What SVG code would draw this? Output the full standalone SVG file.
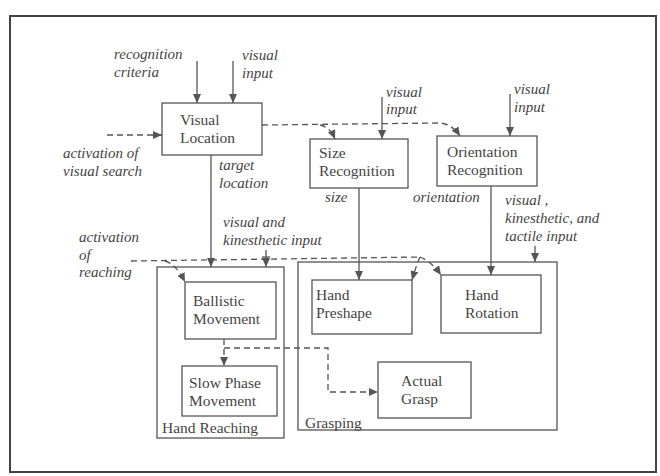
<svg xmlns="http://www.w3.org/2000/svg" width="660" height="476" viewBox="0 0 660 476">
<defs>
<marker id="ah" markerUnits="userSpaceOnUse" markerWidth="10" markerHeight="8" refX="9" refY="4" orient="auto">
<path d="M0,0 L9,4 L0,8 Z" fill="#555"/>
</marker>
<style>
.box{fill:none;stroke:#555;stroke-width:1.3}
.frame{fill:none;stroke:#444;stroke-width:2}
.ln{fill:none;stroke:#555;stroke-width:1.3}
.ds{fill:none;stroke:#555;stroke-width:1.3;stroke-dasharray:6 4}
.bt{font-size:15.5px;fill:#444}
.it{font-style:italic;font-size:15px;fill:#444}
</style>
</defs>
<rect width="660" height="476" fill="#fff"/>
<rect class="frame" x="10" y="16" width="646" height="456"/>

<g id="connectors">
<line class="ln" x1="197" y1="61" x2="197" y2="103" marker-end="url(#ah)"/>
<line class="ln" x1="233" y1="61" x2="233" y2="103" marker-end="url(#ah)"/>
<line class="ds" x1="107" y1="135" x2="162" y2="135" marker-end="url(#ah)"/>
<line class="ln" x1="382" y1="97" x2="382" y2="139" marker-end="url(#ah)"/>
<line class="ln" x1="510" y1="94" x2="510" y2="136" marker-end="url(#ah)"/>
<path class="ds" d="M262,125 L440,123 Q452,124 460,136" marker-end="url(#ah)"/>
<path class="ds" d="M320,125 Q330,127 335,139" marker-end="url(#ah)"/>
<line class="ln" x1="211" y1="155" x2="211" y2="267" marker-end="url(#ah)"/>
<line class="ln" x1="359" y1="188" x2="359" y2="280" marker-end="url(#ah)"/>
<line class="ln" x1="491" y1="186" x2="491" y2="275" marker-end="url(#ah)"/>
<line class="ln" x1="266" y1="250" x2="266" y2="267" marker-end="url(#ah)"/>
<line class="ln" x1="262" y1="257" x2="270" y2="257"/>
<line class="ln" x1="535" y1="246" x2="535" y2="262" marker-end="url(#ah)"/>
<path class="ds" d="M131,261 L420,257"/>
<path class="ds" d="M165,261 Q176,264 185,282" marker-end="url(#ah)"/>
<path class="ds" d="M420,257 Q416,266 412,280" marker-end="url(#ah)"/>
<path class="ds" d="M420,257 Q432,262 441,275" marker-end="url(#ah)"/>
<path class="ds" d="M224,339 L224,348 L224,366" marker-end="url(#ah)"/>
<path class="ds" d="M224,348 L328,348 L328,392 L378,392" marker-end="url(#ah)"/>
</g>

<g id="labels" font-family="'Liberation Serif', 'Times New Roman', 'DejaVu Serif', serif">
<text class="it" x="114" y="59">recognition</text>
<text class="it" x="114" y="77">criteria</text>
<text class="it" x="242" y="60">visual</text>
<text class="it" x="242" y="78">input</text>
<text class="it" x="63" y="158">activation of</text>
<text class="it" x="63" y="176">visual search</text>
<text class="it" x="219" y="170">target</text>
<text class="it" x="219" y="188">location</text>
<text class="it" x="386" y="97">visual</text>
<text class="it" x="386" y="114">input</text>
<text class="it" x="514" y="94">visual</text>
<text class="it" x="514" y="112">input</text>
<text class="it" x="325" y="202">size</text>
<text class="it" x="413" y="202">orientation</text>
<text class="it" x="505" y="205">visual ,</text>
<text class="it" x="505" y="223">kinesthetic, and</text>
<text class="it" x="505" y="241">tactile input</text>
<text class="it" x="223" y="227">visual and</text>
<text class="it" x="223" y="245">kinesthetic input</text>
<text class="it" x="79" y="242">activation</text>
<text class="it" x="79" y="260">of</text>
<text class="it" x="79" y="277">reaching</text>
</g>

<g id="nodes" font-family="'Liberation Serif', 'Times New Roman', 'DejaVu Serif', serif">
<g id="visual-location">
<rect class="box" x="162" y="103" width="100" height="52"/>
<text class="bt" x="180" y="125">Visual</text>
<text class="bt" x="180" y="143">Location</text>
</g>
<g id="size-recognition">
<rect class="box" x="310" y="139" width="98" height="49"/>
<text class="bt" x="319" y="158">Size</text>
<text class="bt" x="319" y="176">Recognition</text>
</g>
<g id="orientation-recognition">
<rect class="box" x="437" y="136" width="100" height="50"/>
<text class="bt" x="447" y="157">Orientation</text>
<text class="bt" x="447" y="175">Recognition</text>
</g>
<g id="hand-reaching">
<rect class="box" x="157" y="267" width="127" height="171"/>
<text class="bt" x="162" y="433">Hand Reaching</text>
</g>
<g id="grasping">
<rect class="box" x="298" y="262" width="259" height="168"/>
<text class="bt" x="305" y="428">Grasping</text>
</g>
<g id="ballistic-movement">
<rect class="box" x="185" y="282" width="91" height="57"/>
<text class="bt" x="193" y="306">Ballistic</text>
<text class="bt" x="193" y="324">Movement</text>
</g>
<g id="slow-phase-movement">
<rect class="box" x="182" y="366" width="95" height="50"/>
<text class="bt" x="189" y="388">Slow Phase</text>
<text class="bt" x="189" y="406">Movement</text>
</g>
<g id="hand-preshape">
<rect class="box" x="312" y="280" width="100" height="54"/>
<text class="bt" x="316" y="300">Hand</text>
<text class="bt" x="316" y="318">Preshape</text>
</g>
<g id="hand-rotation">
<rect class="box" x="441" y="275" width="100" height="58"/>
<text class="bt" x="465" y="300">Hand</text>
<text class="bt" x="465" y="318">Rotation</text>
</g>
<g id="actual-grasp">
<rect class="box" x="378" y="362" width="93" height="56"/>
<text class="bt" x="401" y="386">Actual</text>
<text class="bt" x="401" y="404">Grasp</text>
</g>
</g>
</svg>
